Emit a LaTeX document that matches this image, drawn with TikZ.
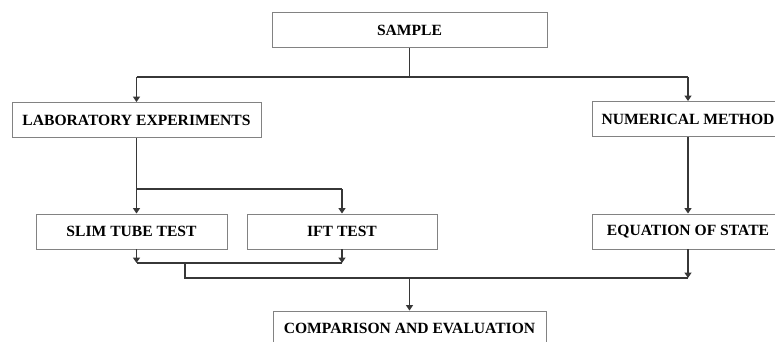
\documentclass[tikz,border=0pt]{standalone}
\usepackage{fontspec}
\setmainfont{Liberation Serif}
\usepackage{tikz}
\usetikzlibrary{positioning,arrows.meta,calc}
\definecolor{boxline}{RGB}{130,130,130}
\definecolor{linkline}{RGB}{55,55,55}

\tikzset{
    stagebox/.style={draw=boxline, line width=0.9pt, minimum height=35pt,
        inner sep=0pt, font=\fontsize{15.6}{18}\selectfont\bfseries},
    link/.style={draw=linkline, line width=1.4pt},
    linkarrow/.style={link, -{Triangle[length=5.5pt,width=7pt]}}
}

\begin{document}
\begin{tikzpicture}[x=1pt, y=-1pt]
    \useasboundingbox (0,0) rectangle (775,341);
    \clip (0,0) rectangle (775,341);

    % Boxes
    \node[stagebox, minimum width=275pt] (sample) at (409.5,30) {SAMPLE};
    \node[stagebox, minimum width=249pt] (lab) at (136.5,120) {LABORATORY EXPERIMENTS};
    \node[stagebox, minimum width=192pt] (num) at (688,119) {NUMERICAL METHOD};
    \node[stagebox, minimum width=191pt] (slim) at (131.5,231.5) {SLIM TUBE TEST};
    \node[stagebox, minimum width=190pt] (ift) at (342,231.5) {IFT TEST};
    \node[stagebox, minimum width=192pt] (eos) at (688,231.5) {EQUATION OF STATE};
    \node[stagebox, minimum width=273pt] (comp) at (409.5,328.5) {COMPARISON AND EVALUATION};

    % Junction levels
    \coordinate (split) at (0,77);
    \coordinate (fork) at (0,189);
    \coordinate (merge) at (0,263);
    \coordinate (join) at (0,278);
    \coordinate (drop) at (185,263);

    % Sample to both branches
    \draw[link] (sample.south) -- (sample.south |- split);
    \draw[link] (split -| lab.north) -- (split -| num.north);
    \draw[linkarrow] (split -| lab.north) -- (lab.north);
    \draw[linkarrow] (split -| num.north) -- (num.north);

    % Laboratory branch
    \draw[link] (lab.south) -- (fork -| lab.south) -- (fork -| ift.north);
    \draw[linkarrow] (fork -| lab.south) -- (slim.north -| lab.south);
    \draw[linkarrow] (fork -| ift.north) -- (ift.north);
    \draw[linkarrow] (slim.south -| lab.south) -- (merge -| lab.south);
    \draw[linkarrow] (ift.south) -- (merge -| ift.south);
    \draw[link] (merge -| lab.south) -- (merge -| ift.south);
    \draw[link] (drop) -- (join -| drop) -- (join -| eos.south);

    % Numerical branch
    \draw[linkarrow] (num.south) -- (eos.north);
    \draw[linkarrow] (eos.south) -- (join -| eos.south);

    % Final comparison
    \draw[linkarrow] (join -| comp.north) -- (comp.north);
\end{tikzpicture}
\end{document}
